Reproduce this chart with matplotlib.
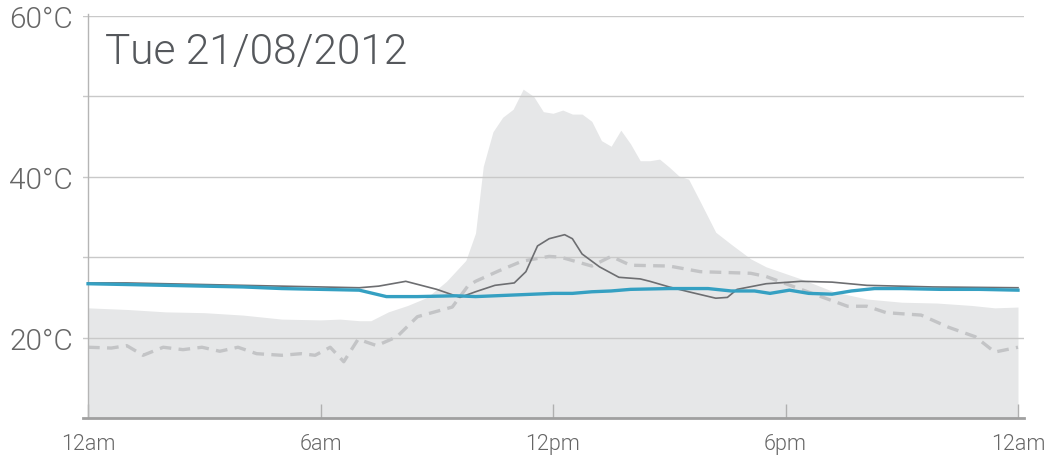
import matplotlib
matplotlib.use("Agg")
import matplotlib.pyplot as plt

# outdoor temperature (shaded area)
outside_hours = [0, 1, 2, 3, 4, 5, 6, 6.5, 7, 7.3, 7.75, 8.25, 8.75, 9.25, 9.75,
                 10.0, 10.2, 10.45, 10.7, 10.97, 11.23, 11.5, 11.75, 12.0, 12.25,
                 12.5, 12.75, 13.0, 13.25, 13.5, 13.75, 14.0, 14.25, 14.5, 14.75,
                 15.0, 15.25, 15.5, 15.8, 16.2, 16.6, 17.1, 17.5, 18.4, 19.25,
                 20.1, 21.0, 21.9, 22.8, 23.4, 24]
outside_temp = [23.7, 23.5, 23.2, 23.1, 22.8, 22.3, 22.2, 22.3, 22.1, 22.1, 23.2,
                24.0, 25.0, 27.0, 29.6, 33.0, 41.3, 45.6, 47.4, 48.4, 50.9, 50.0,
                48.1, 47.9, 48.3, 47.8, 47.8, 46.9, 44.5, 43.8, 45.8, 44.1, 42.0,
                42.0, 42.2, 41.2, 40.1, 39.7, 36.9, 33.1, 31.6, 29.8, 28.8, 27.3,
                25.7, 24.8, 24.4, 24.3, 24.0, 23.7, 23.8]

# dashed series
dashed_hours = [0, 0.6, 1, 1.42, 1.94, 2.45, 2.94, 3.4, 3.87, 4.35, 5.0, 5.5, 5.86,
                6.25, 6.6, 6.97, 7.45, 7.97, 8.5, 9.4, 9.8, 10.0, 10.6, 11.2, 11.9,
                12.2, 13.0, 13.5, 14.0, 15.0, 15.8, 17.1, 17.5, 18.4, 19.6, 20.1,
                20.6, 21.5, 22.2, 22.9, 23.4, 24]
dashed_temp = [18.8, 18.7, 19.0, 17.8, 18.8, 18.5, 18.8, 18.3, 18.8, 18.0, 17.8,
               18.0, 17.8, 18.8, 17.0, 19.8, 19.0, 20.1, 22.6, 23.8, 26.4, 27.0,
               28.3, 29.5, 30.1, 30.0, 28.9, 30.1, 29.0, 28.9, 28.2, 28.0, 27.6,
               26.0, 23.9, 23.9, 23.1, 22.8, 21.3, 20.1, 18.2, 18.8]

# dark grey series
grey_hours = [0, 1, 2, 3, 4, 5, 6, 7, 7.5, 8.2, 9, 9.6, 10, 10.5, 11, 11.3, 11.6,
              11.9, 12.3, 12.5, 12.75, 13.2, 13.7, 14.25, 14.5, 15, 15.5, 16.2,
              16.5, 16.75, 17.5, 18.4, 19.2, 20.1, 21.8, 24]
grey_temp = [26.8, 26.8, 26.7, 26.6, 26.5, 26.4, 26.3, 26.2, 26.4, 27.0, 26.0,
             25.0, 25.7, 26.5, 26.8, 28.2, 31.4, 32.3, 32.8, 32.3, 30.4, 28.8,
             27.5, 27.3, 27.0, 26.3, 25.7, 24.9, 25.0, 26.0, 26.7, 27.0, 26.9,
             26.5, 26.3, 26.2]

# blue series
blue_hours = [0, 1, 2, 3, 4, 5, 6, 7, 7.7, 8.5, 9.5, 10, 11, 12, 12.5, 13, 13.5,
              14, 15, 16, 16.6, 17.2, 17.6, 18.1, 18.6, 19.2, 19.7, 20.3, 21, 22,
              23, 24]
blue_temp = [26.7, 26.6, 26.5, 26.4, 26.3, 26.1, 26.0, 25.9, 25.1, 25.1, 25.2,
             25.1, 25.3, 25.5, 25.5, 25.7, 25.8, 26.0, 26.1, 26.1, 25.8, 25.8,
             25.5, 25.9, 25.5, 25.4, 25.8, 26.1, 26.1, 26.0, 26.0, 25.9]

x_ticks = [0, 6, 12, 18, 24]
x_labels = ["12am", "6am", "12pm", "6pm", "12am"]
y_labels_at = [20, 40, 60]
grid_at = [20, 30, 40, 50, 60]
title = "Tue 21/08/2012"

plt.rcParams["font.family"] = ["Roboto", "DejaVu Sans"]

fig = plt.figure(figsize=(10.45, 4.64), dpi=100)
ax = fig.add_axes([83 / 1045, 45 / 464, 941 / 1045, 402 / 464])

ax.fill_between(outside_hours, 10, outside_temp, color="#e6e7e8", lw=0, zorder=0.5)
for g in grid_at:
    ax.axhline(g, color="#c9c9c9", lw=1, zorder=1)

ax.plot(dashed_hours, dashed_temp, color="#c3c4c6", lw=2.4, dashes=(3.5, 2.2),
        zorder=2)
ax.plot(grey_hours, grey_temp, color="#6d6e71", lw=1.2, zorder=3)
ax.plot(blue_hours, blue_temp, color="#35a0c2", lw=2.4, zorder=4)

ax.set_xlim(-0.13, 24.155)
ax.set_ylim(10, 60)

for side in ["top", "right"]:
    ax.spines[side].set_visible(False)
ax.spines["left"].set_position(("data", 0))
ax.spines["left"].set_color("#b5b5b5")
ax.spines["left"].set_linewidth(1)
ax.spines["left"].set_bounds(10, 60.3)
ax.spines["bottom"].set_color("#a0a0a0")
ax.spines["bottom"].set_linewidth(2)

ax.set_xticks(x_ticks)
ax.set_xticklabels(x_labels)
ax.tick_params(axis="x", direction="in", length=10, width=1, color="#b0b0b0",
               pad=11, labelsize=15.5, labelcolor="#666666")
ax.set_yticks(y_labels_at)
ax.set_yticklabels([f"{v}°C" for v in y_labels_at])
ax.tick_params(axis="y", length=0, pad=11, labelsize=21.5, labelcolor="#666666")
for lbl in ax.get_xticklabels() + ax.get_yticklabels():
    lbl.set_fontweight(300)

ax.text(0.45, 55.6, title, fontsize=30.5, color="#55585c", fontweight=300,
        va="center", ha="left")

fig.savefig("out.png", dpi=100)
